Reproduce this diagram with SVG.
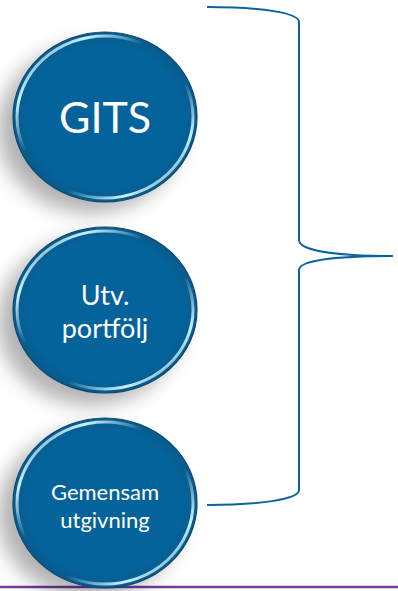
<svg xmlns="http://www.w3.org/2000/svg" width="398" height="591" viewBox="0 0 398 591">
<defs>
<filter id="shadowBlur" x="-50%" y="-50%" width="200%" height="200%"><feGaussianBlur stdDeviation="10"/></filter>
<filter id="soft" x="-20%" y="-20%" width="140%" height="140%"><feGaussianBlur stdDeviation="0.7"/></filter>
<linearGradient id="rim" x1="0" y1="0" x2="1" y2="1">
<stop offset="0" stop-color="#c8f2ff" stop-opacity="0"/>
<stop offset="0.2" stop-color="#c8f2ff" stop-opacity="1"/>
<stop offset="0.38" stop-color="#c8f2ff" stop-opacity="0"/>
<stop offset="0.62" stop-color="#c8f2ff" stop-opacity="0"/>
<stop offset="0.8" stop-color="#c8f2ff" stop-opacity="1"/>
<stop offset="1" stop-color="#c8f2ff" stop-opacity="0"/>
</linearGradient>
<radialGradient id="body" cx="0.5" cy="0.5" r="0.5">
<stop offset="0.85" stop-color="#04639b"/>
<stop offset="1" stop-color="#0a5a8a"/>
</radialGradient>
</defs>
<style>
.shadow{fill:#000;opacity:0.3;filter:url(#shadowBlur)}
.ball{fill:url(#body);stroke:#0b4a72;stroke-width:1.2}
.gloss{fill:none;stroke:url(#rim);stroke-width:3;filter:url(#soft)}
.lbl{fill:#fff;font-family:Lato,"Liberation Sans",sans-serif;text-anchor:middle}
.brace{fill:none;stroke:#0b64a0;stroke-width:2}
</style>
<line x1="0" y1="587" x2="398" y2="587" stroke="#6e3c9e" stroke-width="2.5"/>
<g id="node-gits">
<ellipse class="shadow" cx="90" cy="129" rx="92" ry="84"/>
<ellipse class="ball" cx="105" cy="117" rx="92" ry="85"/>
<ellipse class="gloss" cx="105" cy="117" rx="88" ry="81"/>
<text class="lbl" x="105" y="133" font-size="43">GITS</text>
</g>
<g id="node-utv">
<ellipse class="shadow" cx="90" cy="322" rx="92" ry="83"/>
<ellipse class="ball" cx="105" cy="310" rx="92" ry="83"/>
<ellipse class="gloss" cx="105" cy="310" rx="88" ry="79"/>
<text class="lbl" x="105" y="305" font-size="27">Utv.</text>
<text class="lbl" x="105" y="338" font-size="27">portfölj</text>
</g>
<g id="node-gemensam">
<ellipse class="shadow" cx="90" cy="514" rx="92" ry="84"/>
<ellipse class="ball" cx="105" cy="503" rx="92" ry="85"/>
<ellipse class="gloss" cx="105" cy="503" rx="88" ry="81"/>
<text class="lbl" x="105" y="500" font-size="22">Gemensam</text>
<text class="lbl" x="105" y="528" font-size="22">utgivning</text>
</g>
<g id="connectors">
<path class="brace" d="M207,7 C262,7 299,13 299,22 L299,240 C299,250 332,256 393,256"/>
<path class="brace" d="M393,256 C332,256 299,261 299,270 L299,490 C299,499 262,505 207,505"/>
</g>
</svg>
